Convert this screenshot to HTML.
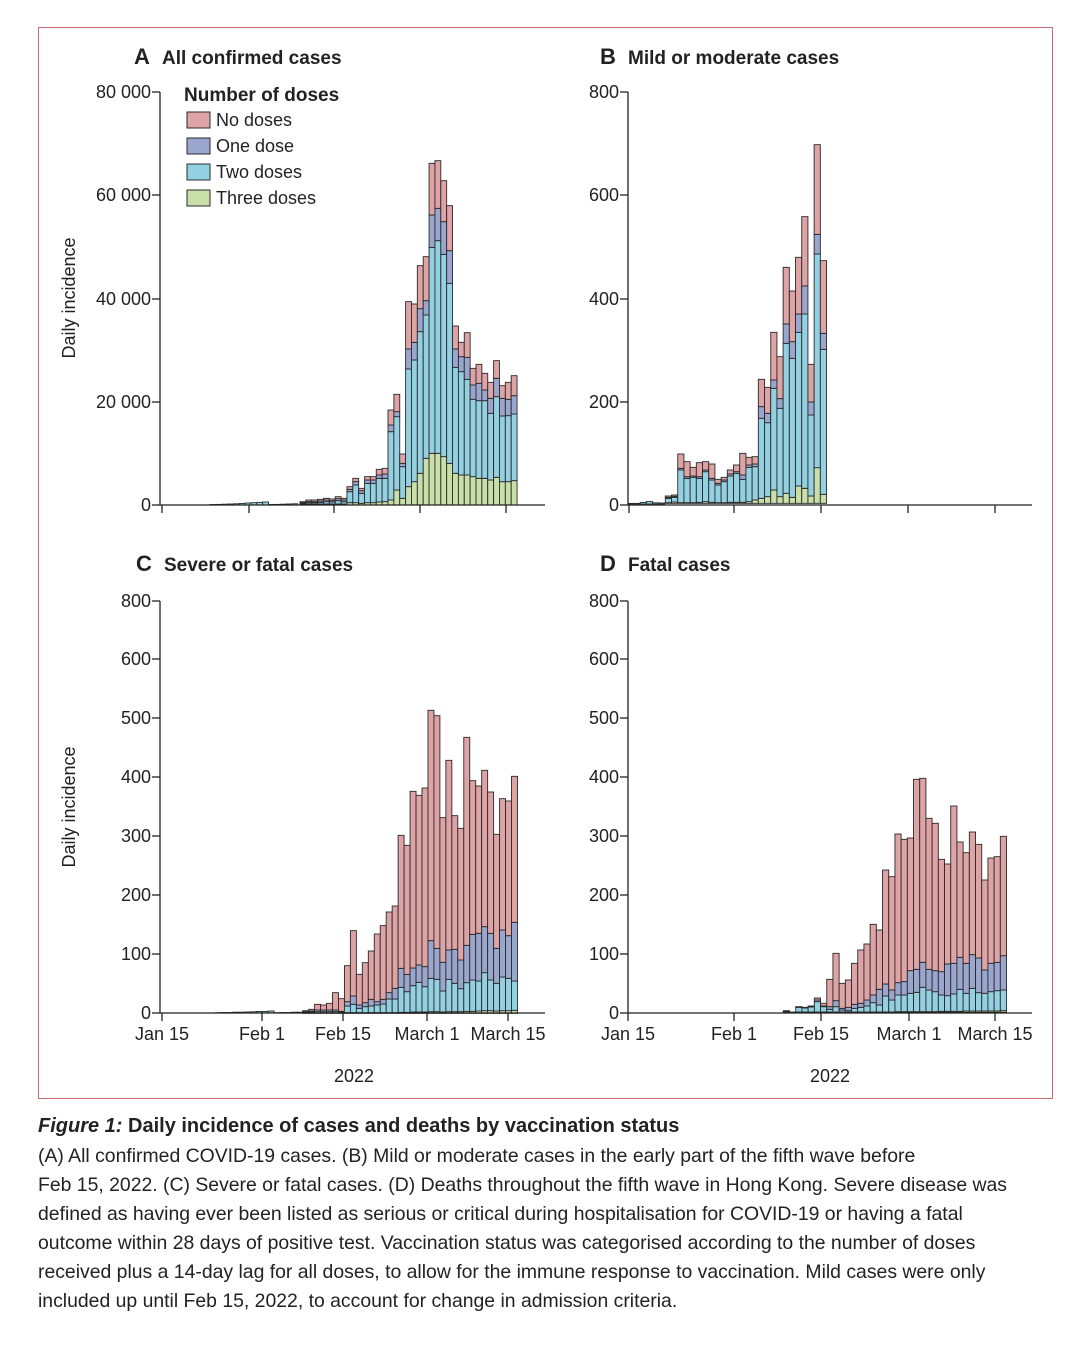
<!DOCTYPE html>
<html><head><meta charset="utf-8"><style>
body{margin:0;background:#fff;width:1080px;height:1345px;overflow:hidden;font-family:"Liberation Sans",sans-serif;color:#222}
#frame{position:absolute;left:38px;top:27px;width:1013px;height:1070px;border:1px solid #c86a72}
.cap{position:absolute;left:38px;font-size:19.4px;line-height:29px;color:#222;white-space:nowrap}
</style></head><body>
<div id="frame"></div>
<svg id="s" width="1080" height="1100" style="position:absolute;left:0;top:0" font-family="Liberation Sans, sans-serif"></svg>
<div class="cap" style="top:1112px;font-size:20px"><b><i>Figure 1:</i> Daily incidence of cases and deaths by vaccination status</b></div>
<div class="cap" style="top:1142px">(A) All confirmed COVID-19 cases. (B) Mild or moderate cases in the early part of the fifth wave before<br>Feb 15, 2022. (C) Severe or fatal cases. (D) Deaths throughout the fifth wave in Hong Kong. Severe disease was<br>defined as having ever been listed as serious or critical during hospitalisation for COVID-19 or having a fatal<br>outcome within 28 days of positive test. Vaccination status was categorised according to the number of doses<br>received plus a 14-day lag for all doses, to allow for the immune response to vaccination. Mild cases were only<br>included up until Feb 15, 2022, to account for change in admission criteria.</div>
<script>
var s=document.getElementById('s'),h='';
var C={r:'#dea3a4',o:'#9ba6cf',t:'#93d0e2',g:'#c8dfa8'};
function rect(x,y,w,hh,c){if(hh<=0.2)return;h+='<rect x="'+x.toFixed(2)+'" y="'+y.toFixed(2)+'" width="'+w.toFixed(2)+'" height="'+hh.toFixed(2)+'" fill="'+c+'" stroke="#2a2a2a" stroke-width="0.9"/>';}
function panel(ox,oy,sx,w,base,bars){
 bars.forEach(function(b,i){
  var x=ox+(sx+i*w)/3,ww=w/3;
  var B=oy+base/3,g=oy+b[0]/3,t=oy+b[1]/3,o=oy+b[2]/3,T=oy+b[3]/3;
  rect(x,g,ww,B-g,C.g);rect(x,t,ww,g-t,C.t);rect(x,o,ww,t-o,C.o);rect(x,T,ww,o-T,C.r);
 });
}
function tiny(x0,n,w,base,hs){for(var i=0;i<n;i++){var hh=hs[i%hs.length];rect(x0+i*w,base-hh,w,hh,C.t);}}
tiny(210,15,5.85,505,[0.5,0.6,0.8,1,1.2,1.5,2,2.3,2.6,3]);
panel(300,150,0,17.6,1065,[
[1062,1060,1058,1055],[1062,1058,1055,1050],[1062,1058,1055,1050],[1062,1057,1053,1048],[1062,1055,1050,1045],[1062,1056,1052,1047],[1062,1052,1046,1040],[1062,1055,1050,1045],
[1058,1025,1018,1010],[1058,1005,995,985],[1060,1030,1022,1015],[1058,1000,990,980],[1058,1000,990,980],[1056,985,975,958],[1055,985,972,955],
[1050,845,825,780],[1020,800,785,733],[1045,950,940,912],[1010,657,597,455],[995,630,577,462],[970,545,476,347],[925,495,452,320],[910,292,195,40],[910,272,175,32],[920,313,215,92],[940,400,302,167],
[970,652,597,528],[975,665,620,577],[975,688,622,548],[980,748,705,655],[985,752,700,643],[985,752,720,670],[990,790,745,697],[982,740,685,632],[995,798,745,707],[995,797,748,697],[992,792,737,677]]);
tiny(628,6,6.1,504,[0.6,0.6,1.5,2.5,1.2,1]);
panel(620,140,136,18.6,1090,[
[1088,1075,1072,1068],[1086,1072,1069,1065],[1088,990,985,942],[1088,1015,1010,965],[1088,1012,1008,982],[1087,1015,1010,968],[1085,995,990,965],[1087,1020,1015,972],[1088,1035,1030,1018],[1088,1025,1020,1012],[1087,1008,1002,990],[1087,1000,995,975],[1087,1018,1005,940],[1085,982,975,952],
[1080,980,972,950],[1075,835,800,718],[1070,848,820,742],[1050,745,720,577],[1070,805,776,650],[1060,610,552,382],[1072,655,605,453],[1038,577,522,352],[1045,522,438,230],[1068,825,786,673],[983,342,283,14],[1063,628,580,362]]);
tiny(215,15,5.9,1013,[0.3,0.5,0.5,0.8,0.8,1,1.2,1.5,1.5,2]);
panel(300,700,8,17.9,940,[
[939,937,935,932],[939,936,933,928],[939,935,930,913],[939,935,930,915],[939,935,930,910],[939,935,930,878],[939,936,934,896],
[938,918,905,797],[938,913,888,692],[938,925,915,823],[938,920,908,788],[938,918,898,753],[938,915,905,702],[938,912,898,677],[938,897,878,636],[938,897,865,618],[937,862,805,406],[937,875,823,436],[936,857,804,274],[936,847,795,286],[936,860,800,264],[935,835,722,31],[935,838,745,47],[936,873,787,353],[935,838,750,181],[935,850,748,347],[935,866,780,385],[934,848,736,112],[934,840,703,242],[933,843,700,258],[932,818,680,211],[932,840,700,276],[933,850,745,403],[932,831,690,296],[932,835,707,303],[931,843,667,229]]);
panel(780,760,10,18.6,757,[
[756,755,754,752],[756,756,756,756],[756,742,741,740],[756,744,743,742],[756,741,740,738],[756,725,720,714],[756,740,738,730],
[756,748,740,658],[756,740,722,580],[756,750,745,670],[756,752,742,660],[756,745,733,610],[756,742,730,570],[756,738,720,552],[756,728,705,493],[756,735,688,510],[756,708,672,330],[756,720,690,350],[755,705,668,222],[755,705,665,238],[755,700,632,234],[755,697,628,58],[755,682,607,55],[755,690,628,175],[755,695,632,190],[754,705,635,298],[754,707,612,312],[754,702,610,138],[754,688,592,246],[753,700,610,278],[753,685,584,216],[753,698,594,253],[753,700,630,360],[753,695,610,294],[753,692,607,290],[752,690,587,229]]);
function line(x1,y1,x2,y2){h+='<line x1="'+x1+'" y1="'+y1+'" x2="'+x2+'" y2="'+y2+'" stroke="#222" stroke-width="1.3"/>';}
function txt(x,y,t,a,sz,extra){h+='<text x="'+x+'" y="'+y+'" font-size="'+(sz||18)+'" text-anchor="'+(a||'end')+'" fill="#222" '+(extra||'')+'>'+t+'</text>';}
function axes(ax,x2,base,top,yt,xt,xl){
 line(ax,top,ax,base);line(ax,base,x2,base);
 yt.forEach(function(p){line(ax-8,p[0],ax,p[0]);txt(ax-9,p[0]+6,p[1]);});
 xt.forEach(function(x,i){line(x,base,x,base+8);if(xl)txt(x,base+27,xl[i],'middle');});
}
axes(160,545,505,92,[[505,'0'],[402,'20 000'],[299,'40 000'],[195,'60 000'],[92,'80 000']],[162,249,334,420,506]);
axes(628,1032,505,92,[[505,'0'],[402,'200'],[299,'400'],[195,'600'],[92,'800']],[629,734,821,908,995]);
var cy=[[1013,'0'],[954,'100'],[895,'200'],[836,'300'],[777,'400'],[718,'500'],[659,'600'],[601,'800']];
var lb=['Jan 15','Feb 1','Feb 15','March 1','March 15'];
axes(160,545,1013,601,cy,[162,262,343,427,508],lb);
axes(628,1032,1013,601,cy,[628,734,821,909,995],lb);
txt(354,1082,'2022','middle');txt(830,1082,'2022','middle');
txt(75,298,'Daily incidence','middle',18,'transform="rotate(-90 75 298)"');
txt(75,807,'Daily incidence','middle',18,'transform="rotate(-90 75 807)"');
function title(x,y,l,t){h+='<text x="'+x+'" y="'+y+'" font-size="22" font-weight="bold" fill="#222">'+l+'</text><text x="'+(x+28)+'" y="'+y+'" font-size="19" font-weight="bold" fill="#222">'+t+'</text>';}
title(134,64,'A','All confirmed cases');title(600,64,'B','Mild or moderate cases');
title(136,571,'C','Severe or fatal cases');title(600,571,'D','Fatal cases');
txt(184,101,'Number of doses','start',19,'font-weight="bold"');
[['No doses',C.r],['One dose',C.o],['Two doses',C.t],['Three doses',C.g]].forEach(function(e,i){
 var y=112+i*26;h+='<rect x="187" y="'+y+'" width="23" height="16" fill="'+e[1]+'" stroke="#2a2a2a" stroke-width="1"/>';txt(216,y+14,e[0],'start',18);});
s.innerHTML=h;
</script>
</body></html>
